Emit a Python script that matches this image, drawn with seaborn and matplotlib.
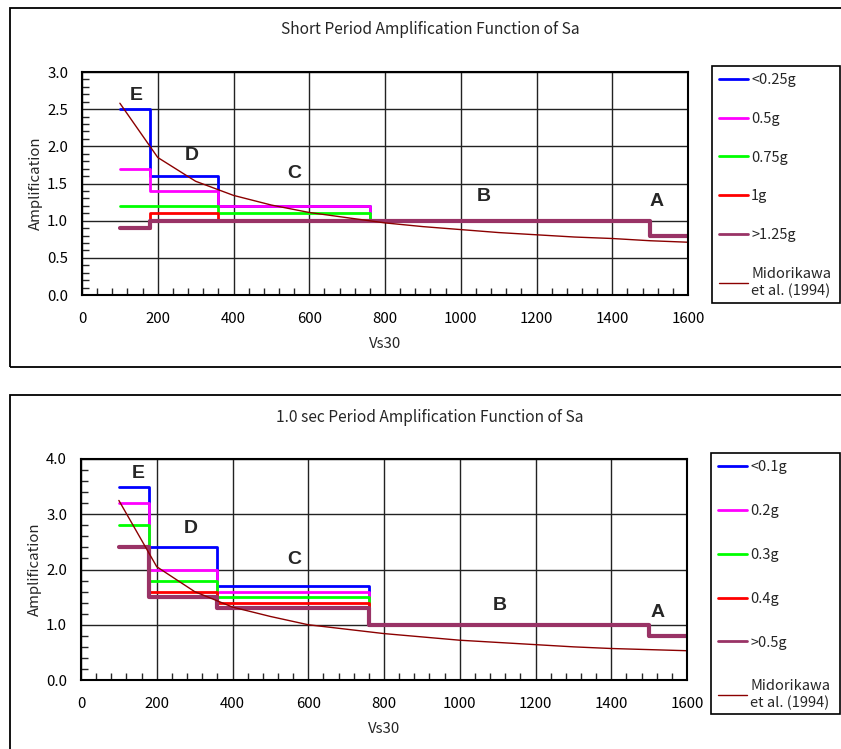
import matplotlib
matplotlib.use("Agg")
import matplotlib.pyplot as plt
from matplotlib.patches import Rectangle
from matplotlib.ticker import MultipleLocator
import seaborn as sns
import pandas as pd

# Site class boundaries (Vs30, m/s); the last value closes the class A step
vs_bounds = [100, 180, 360, 760, 1500, 1600]
site_classes = ["E", "D", "C", "B", "A"]

# Short period amplification (Fa), per class E, D, C, B, A
fa_labels = ["<0.25g", "0.5g", "0.75g", "1g", ">1.25g"]
fa_values = {
    "<0.25g": [2.5, 1.6, 1.2, 1.0, 0.8],
    "0.5g": [1.7, 1.4, 1.2, 1.0, 0.8],
    "0.75g": [1.2, 1.2, 1.1, 1.0, 0.8],
    "1g": [0.9, 1.1, 1.0, 1.0, 0.8],
    ">1.25g": [0.9, 1.0, 1.0, 1.0, 0.8],
}

# 1.0 sec period amplification (Fv), per class E, D, C, B, A
fv_labels = ["<0.1g", "0.2g", "0.3g", "0.4g", ">0.5g"]
fv_values = {
    "<0.1g": [3.5, 2.4, 1.7, 1.0, 0.8],
    "0.2g": [3.2, 2.0, 1.6, 1.0, 0.8],
    "0.3g": [2.8, 1.8, 1.5, 1.0, 0.8],
    "0.4g": [2.4, 1.6, 1.4, 1.0, 0.8],
    ">0.5g": [2.4, 1.5, 1.3, 1.0, 0.8],
}

# Midorikawa et al. (1994) empirical amplification
mido_vs = [100, 200, 300, 400, 500, 600, 700, 800, 900, 1000, 1100, 1200, 1300, 1400, 1500, 1600]
mido_short = [2.58, 1.85, 1.53, 1.34, 1.21, 1.11, 1.04, 0.97, 0.92, 0.88, 0.84, 0.81, 0.78, 0.76, 0.73, 0.71]
mido_long = [3.25, 2.05, 1.60, 1.32, 1.15, 1.00, 0.92, 0.84, 0.78, 0.72, 0.68, 0.64, 0.60, 0.57, 0.55, 0.53]
mido_label = "Midorikawa\net al. (1994)"

# Class letter label positions (Vs30, amplification)
short_letter_pos = [(142, 2.69), (290, 1.87), (560, 1.63), (1060, 1.32), (1517, 1.26)]
long_letter_pos = [(150, 3.73), (290, 2.74), (562, 2.18), (1106, 1.34), (1521, 1.23)]

series_colors = ["#0000FF", "#FF00FF", "#00FF00", "#FF0000", "#993366"]
series_widths = [2.0, 2.0, 2.0, 2.0, 3.0]
mido_color = "#8B0000"

sns.set_style("white")
plt.rcParams["font.family"] = ["Noto Sans CJK JP", "DejaVu Sans"]

W, H = 841, 749
fig = plt.figure(figsize=(W / 100, H / 100), dpi=100)


def fx(px):
    return px / W


def fy(py):
    return 1 - py / H


def draw_panel(axbox, title, title_y, labels, values, mido_y, ymax, ymajor, yminor,
               letter_pos, frame_box, legend_box, legend_spacing):
    # outer frame around the panel
    x0, y0, x1, y1 = frame_box
    fig.patches.append(Rectangle((fx(x0), fy(y1)), fx(x1) - fx(x0), fy(y0) - fy(y1),
                                 transform=fig.transFigure, fill=False,
                                 edgecolor="black", linewidth=1.3, clip_on=False))
    fig.text(fx(430), fy(title_y), title, ha="center", va="center", fontsize=11.2)

    l, t, r, b = axbox
    ax = fig.add_axes([fx(l), fy(b), fx(r) - fx(l), fy(t) - fy(b)])

    handles = []
    for lab, col, lw in zip(labels, series_colors, series_widths):
        vals = values[lab] + [values[lab][-1]]
        df = pd.DataFrame({"Vs30": vs_bounds, "Amp": vals})
        sns.lineplot(data=df, x="Vs30", y="Amp", ax=ax, color=col, linewidth=lw,
                     drawstyle="steps-post", estimator=None, sort=False, label=lab,
                     legend=False)
        handles.append(ax.lines[-1])
    dfm = pd.DataFrame({"Vs30": mido_vs, "Amp": mido_y})
    sns.lineplot(data=dfm, x="Vs30", y="Amp", ax=ax, color=mido_color, linewidth=1.0,
                 estimator=None, sort=False, legend=False)
    handles.append(ax.lines[-1])

    for (lx, ly), letter in zip(letter_pos, site_classes):
        ax.text(lx, ly, letter, ha="center", va="center", fontsize=14,
                fontweight="bold", family=["Liberation Sans", "DejaVu Sans"])

    ax.set_xlim(0, 1600)
    ax.set_ylim(0, ymax)
    ax.xaxis.set_major_locator(MultipleLocator(200))
    ax.xaxis.set_minor_locator(MultipleLocator(40))
    ax.yaxis.set_major_locator(MultipleLocator(ymajor))
    ax.yaxis.set_minor_locator(MultipleLocator(yminor))
    ax.yaxis.set_major_formatter(matplotlib.ticker.FormatStrFormatter("%.1f"))
    ax.grid(True, which="major", color="#222222", linewidth=1.0)
    ax.tick_params(axis="both", which="major", direction="in", length=0,
                   labelsize=10.8, colors="black")
    ax.tick_params(axis="x", which="major", pad=12)
    ax.tick_params(axis="y", which="major", pad=10)
    ax.tick_params(axis="x", which="minor", direction="in", length=5, width=1,
                   bottom=True, top=False)
    ax.tick_params(axis="y", which="minor", direction="in", length=5, width=1,
                   left=True, right=False)
    for s in ax.spines.values():
        s.set_color("black")
        s.set_linewidth(1.5)
    ax.set_xlabel("Vs30", fontsize=10.8, labelpad=8)
    ax.set_ylabel("Amplification", fontsize=10.8, labelpad=3)

    # legend frame and entries
    lx0, ly0, lx1, ly1 = legend_box
    fig.patches.append(Rectangle((fx(lx0), fy(ly1)), fx(lx1) - fx(lx0), fy(ly0) - fy(ly1),
                                 transform=fig.transFigure, fill=False,
                                 edgecolor="black", linewidth=1.2, clip_on=False))
    leg = fig.legend(handles, labels + [mido_label], loc="upper left",
                     bbox_to_anchor=(fx(lx0 + 7), fy(ly0 + 7)), frameon=False,
                     fontsize=10.5, handlelength=2.0, handletextpad=0.2,
                     borderpad=0, borderaxespad=0, labelspacing=legend_spacing)
    for h in leg.legend_handles:
        h.set_linewidth(2.0)
    leg.legend_handles[-1].set_linewidth(1.0)
    return ax


draw_panel((82, 72, 688, 295), "Short Period Amplification Function of Sa", 30,
           fa_labels, fa_values, mido_short, 3.0, 0.5, 0.1, short_letter_pos,
           (10, 8, 870, 367), (712, 66, 840, 303), 1.7)

draw_panel((81, 459, 687, 680), "1.0 sec Period Amplification Function of Sa", 417,
           fv_labels, fv_values, mido_long, 4.0, 1.0, 0.2, long_letter_pos,
           (10, 395, 870, 780), (711, 453, 840, 714), 2.05)

fig.savefig("out.png", dpi=100)
